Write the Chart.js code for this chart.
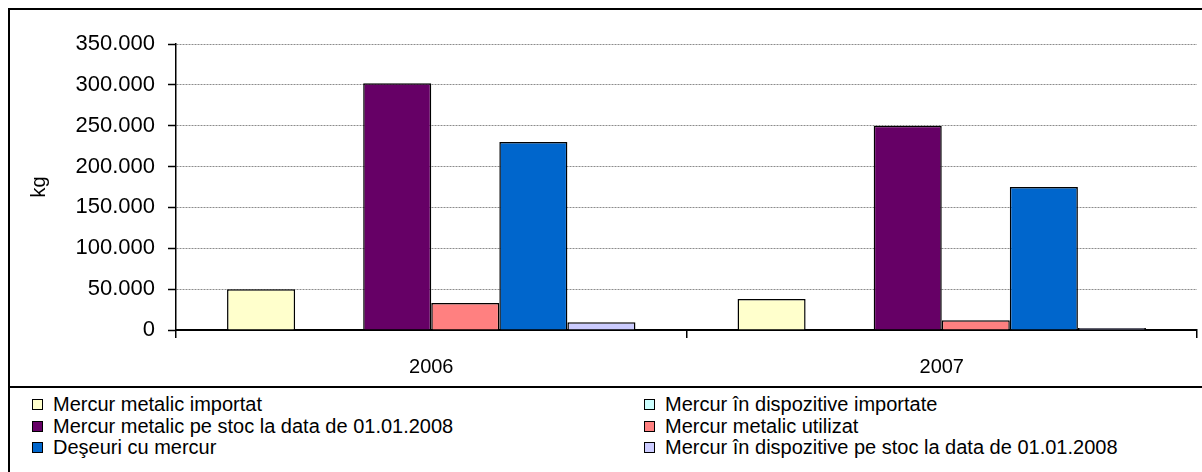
<!DOCTYPE html>
<html>
<head>
<meta charset="utf-8">
<script src="https://cdn.jsdelivr.net/npm/chart.js@4/dist/chart.umd.min.js"></script>
<style>
  body { margin: 0; background: #fff; }
  #wrap { position: relative; width: 1202px; height: 472px; overflow: hidden; background: #fff; }
  #frame { position: absolute; left: 8px; top: 8px; width: 1210px; height: 480px; border-top: 2px solid #000; border-left: 2px solid #000; }
  #sep { position: absolute; left: 8px; top: 386px; width: 1200px; border-top: 2px solid #000; }
  #chartBox { position: absolute; left: 10px; top: 10px; width: 1192px; height: 376px; }
  #legend { position: absolute; left: 32px; top: 394px; display: grid; grid-template-columns: 612px 540px; font: 20px "Liberation Sans", Arial, sans-serif; line-height: 21.5px; color: #000; }
  #legend .item { display: flex; align-items: center; white-space: nowrap; }
  #legend .sw { width: 9px; height: 9px; border: 1px solid #000; margin-right: 10px; flex: none; }
</style>
</head>
<body>
<div id="wrap">
  <div id="frame"></div>
  <div id="sep"></div>
  <div id="chartBox"><canvas id="mercurChart" width="1192" height="376"></canvas></div>
  <div id="legend"></div>
</div>
<script>
const years = ['2006', '2007'];

const metalicImportat = [50000, 38000];
const dispozitiveImportate = [0, 0];
const metalicStoc = [302000, 250000];
const metalicUtilizat = [33000, 12000];
const deseuri = [230000, 175000];
const dispozitiveStoc = [9500, 2500];

const seriesNames = [
  'Mercur metalic importat',
  'Mercur în dispozitive importate',
  'Mercur metalic pe stoc la data de 01.01.2008',
  'Mercur metalic utilizat',
  'Deşeuri cu mercur',
  'Mercur în dispozitive pe stoc la data de 01.01.2008'
];
const seriesValues = [metalicImportat, dispozitiveImportate, metalicStoc, metalicUtilizat, deseuri, dispozitiveStoc];
const seriesColors = ['#FFFFCC', '#CCFFFF', '#660066', '#FF8080', '#0066CC', '#CCCCFF'];

const yTicks = [0, 50000, 100000, 150000, 200000, 250000, 300000, 350000];

const fontFamily = '"Liberation Sans", Arial, sans-serif';

function fmt(v) {
  return String(v).replace(/\B(?=(\d{3})+(?!\d))/g, '.');
}

const datasets = seriesNames.map((name, i) => ({
  label: name,
  data: seriesValues[i],
  backgroundColor: seriesColors[i],
  borderColor: '#000',
  borderWidth: 1.5,
  categoryPercentage: 0.8,
  barPercentage: 1.0
}));

new Chart(document.getElementById('mercurChart'), {
  type: 'bar',
  data: { labels: years, datasets: datasets },
  options: {
    responsive: false,
    animation: false,
    layout: { padding: { left: 0, top: 34, right: 5, bottom: 0 } },
    plugins: { legend: { display: false }, tooltip: { enabled: false } },
    scales: {
      x: {
        grid: { offset: true, drawOnChartArea: false, drawTicks: true, tickLength: 8, color: '#000', lineWidth: 1.5 },
        border: { color: '#000', width: 2 },
        ticks: { color: '#000', padding: 17, font: { family: fontFamily, size: 20 } },
        afterFit(scale) { scale.height = 56; }
      },
      y: {
        min: 0,
        max: 350000,
        afterBuildTicks(scale) { scale.ticks = yTicks.map(v => ({ value: v })); },
        grid: { color: '#8c8c8c', lineWidth: 1, tickLength: 8, tickColor: '#000', tickWidth: 1.5 },
        border: { color: '#000', width: 1.5, dash: [2, 1] },
        ticks: { color: '#000', padding: 13, font: { family: fontFamily, size: 22 }, callback: v => fmt(v) },
        title: { display: true, text: 'kg', color: '#000', padding: { top: 17, bottom: 0 }, font: { family: fontFamily, size: 20 } },
        afterFit(scale) { scale.width = 166; }
      }
    }
  }
});

const legend = document.getElementById('legend');
seriesNames.forEach((name, i) => {
  const item = document.createElement('div');
  item.className = 'item';
  const sw = document.createElement('span');
  sw.className = 'sw';
  sw.style.background = seriesColors[i];
  const txt = document.createElement('span');
  txt.textContent = name;
  item.appendChild(sw);
  item.appendChild(txt);
  legend.appendChild(item);
});
</script>
</body>
</html>
